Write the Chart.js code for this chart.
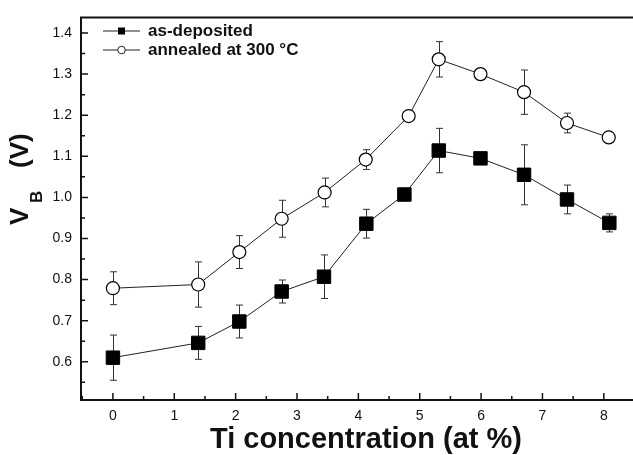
<!DOCTYPE html>
<html>
<head>
<meta charset="utf-8">
<script src="https://cdn.jsdelivr.net/npm/chart.js@4.4.0/dist/chart.umd.min.js"></script>
<style>
html, body { margin: 0; padding: 0; overflow: hidden; background: #fff; }
</style>
</head>
<body>
<canvas id="vbChart" width="645" height="455"></canvas>
<script>
// Ti concentration (at %) and barrier voltage V_B (V)
var xAsDep = [0, 1.39, 2.06, 2.75, 3.44, 4.13, 4.75, 5.31, 5.99, 6.70, 7.40, 8.09];
var vAsDep = [0.610, 0.646, 0.698, 0.771, 0.807, 0.936, 1.007, 1.114, 1.095, 1.055, 0.995, 0.938];
var errAsDep = [0.055, 0.040, 0.040, 0.028, 0.053, 0.035, 0.008, 0.054, 0.012, 0.073, 0.035, 0.022];

var xAnneal = [0, 1.39, 2.06, 2.75, 3.45, 4.12, 4.82, 5.31, 5.99, 6.70, 7.40, 8.08];
var vAnneal = [0.779, 0.788, 0.867, 0.948, 1.012, 1.092, 1.198, 1.336, 1.300, 1.256, 1.181, 1.146];
var errAnneal = [0.040, 0.055, 0.040, 0.045, 0.035, 0.024, 0.008, 0.043, 0.010, 0.054, 0.024, 0.010];

var seriesNames = ['as-deposited', 'annealed at 300 °C'];
var xTicks = [0, 1, 2, 3, 4, 5, 6, 7, 8];
var yTicks = [0.6, 0.7, 0.8, 0.9, 1.0, 1.1, 1.2, 1.3, 1.4];

function toPoints(xs, ys) {
    return xs.map(function (x, i) { return { x: x, y: ys[i] }; });
}

var errorSets = [errAsDep, errAnneal];

var framePlugin = {
    id: 'frame',
    beforeDatasetsDraw: function (chart) {
        var ctx = chart.ctx;
        var xs = chart.scales.x, ys = chart.scales.y;
        ctx.save();
        ctx.strokeStyle = '#333';
        ctx.lineWidth = 1;
        chart.data.datasets.forEach(function (ds, di) {
            ds.data.forEach(function (p, i) {
                var e = errorSets[di][i];
                var px = Math.round(xs.getPixelForValue(p.x)) + 0.5;
                var top = ys.getPixelForValue(p.y + e);
                var bot = ys.getPixelForValue(p.y - e);
                ctx.beginPath();
                ctx.moveTo(px, top); ctx.lineTo(px, bot);
                ctx.moveTo(px - 3.5, top); ctx.lineTo(px + 3.5, top);
                ctx.moveTo(px - 3.5, bot); ctx.lineTo(px + 3.5, bot);
                ctx.stroke();
            });
        });
        ctx.restore();
    },
    afterDraw: function (chart) {
        var ctx = chart.ctx;
        var a = chart.chartArea;
        var xs = chart.scales.x, ys = chart.scales.y;
        ctx.save();
        ctx.strokeStyle = '#111';
        ctx.lineWidth = 2;
        ctx.beginPath();
        ctx.moveTo(a.right, a.top); ctx.lineTo(a.left, a.top);
        ctx.lineTo(a.left, a.bottom); ctx.lineTo(a.right, a.bottom);
        ctx.stroke();

        // inward ticks
        ctx.lineWidth = 1.5;
        ctx.beginPath();
        for (var xv = -0.5; xv <= 8.5; xv += 0.5) {
            var px = xs.getPixelForValue(xv);
            if (px <= a.left + 1) continue;
            var len = (xv % 1 === 0) ? 7 : 4;
            ctx.moveTo(px, a.bottom); ctx.lineTo(px, a.bottom - len);
        }
        for (var k = 11; k <= 28; k++) {
            var yv = k * 0.05;
            var py = ys.getPixelForValue(yv);
            if (py < a.top || py > a.bottom) continue;
            var ylen = (k % 2 === 0) ? 7 : 4;
            ctx.moveTo(a.left, py); ctx.lineTo(a.left + ylen, py);
        }
        ctx.stroke();

        // legend
        ctx.lineWidth = 1;
        ctx.strokeStyle = '#222';
        ctx.beginPath();
        ctx.moveTo(103, 31); ctx.lineTo(140, 31);
        ctx.moveTo(103, 50); ctx.lineTo(140, 50);
        ctx.stroke();
        ctx.fillStyle = '#000';
        ctx.fillRect(118, 27.5, 7, 7);
        ctx.beginPath();
        ctx.arc(121.5, 50, 3.8, 0, Math.PI * 2);
        ctx.fillStyle = '#fff';
        ctx.fill();
        ctx.stroke();
        ctx.fillStyle = '#111';
        ctx.font = 'bold 17px "Liberation Sans", Arial, sans-serif';
        ctx.textBaseline = 'middle';
        ctx.textAlign = 'left';
        ctx.fillText(seriesNames[0], 148, 31);
        ctx.fillText(seriesNames[1], 148, 50);

        // x axis title
        ctx.textBaseline = 'alphabetic';
        ctx.textAlign = 'center';
        ctx.font = 'bold 29px "Liberation Sans", Arial, sans-serif';
        ctx.fillText('Ti concentration (at %)', 366, 448);

        // y axis title with subscript
        ctx.translate(28, 225);
        ctx.rotate(-Math.PI / 2);
        ctx.textAlign = 'left';
        ctx.font = 'bold 26px "Liberation Sans", Arial, sans-serif';
        ctx.fillText('V', 0, 0);
        ctx.font = 'bold 17px "Liberation Sans", Arial, sans-serif';
        ctx.fillText('B', 22, 14);
        ctx.font = 'bold 26px "Liberation Sans", Arial, sans-serif';
        ctx.fillText('(V)', 57, 0);
        ctx.restore();
    }
};

var ctx = document.getElementById('vbChart').getContext('2d');
var chart = new Chart(ctx, {
    type: 'line',
    data: {
        datasets: [{
            label: seriesNames[0],
            data: toPoints(xAsDep, vAsDep),
            borderColor: '#222',
            borderWidth: 1,
            pointStyle: 'rect',
            pointRadius: 9.5,
            pointBackgroundColor: '#000',
            pointBorderColor: '#000',
            pointBorderWidth: 1
        }, {
            label: seriesNames[1],
            data: toPoints(xAnneal, vAnneal),
            borderColor: '#222',
            borderWidth: 1,
            pointStyle: 'circle',
            pointRadius: 6.5,
            pointBackgroundColor: '#fff',
            pointBorderColor: '#000',
            pointBorderWidth: 1.2
        }]
    },
    options: {
        responsive: false,
        animation: false,
        layout: { padding: { left: 0, top: 9, right: 7, bottom: 0 } },
        plugins: { legend: { display: false }, tooltip: { enabled: false } },
        scales: {
            x: {
                type: 'linear',
                min: -0.52,
                max: 8.5,
                grid: { display: false, drawTicks: false },
                border: { display: false },
                afterBuildTicks: function (s) { s.ticks = xTicks.map(function (v) { return { value: v }; }); },
                afterFit: function (s) { s.height = 55; },
                ticks: {
                    padding: 8,
                    color: '#111',
                    font: { family: '"Liberation Sans", Arial, sans-serif', size: 14 },
                    maxRotation: 0,
                    callback: function (v) { return String(v); }
                }
            },
            y: {
                min: 0.507,
                max: 1.438,
                grid: { display: false, drawTicks: false },
                border: { display: false },
                afterBuildTicks: function (s) { s.ticks = yTicks.map(function (v) { return { value: v }; }); },
                afterFit: function (s) { s.width = 81; },
                ticks: {
                    padding: 9,
                    color: '#111',
                    font: { family: '"Liberation Sans", Arial, sans-serif', size: 14 },
                    callback: function (v) { return v.toFixed(1); }
                }
            }
        }
    },
    plugins: [framePlugin]
});
</script>
</body>
</html>
